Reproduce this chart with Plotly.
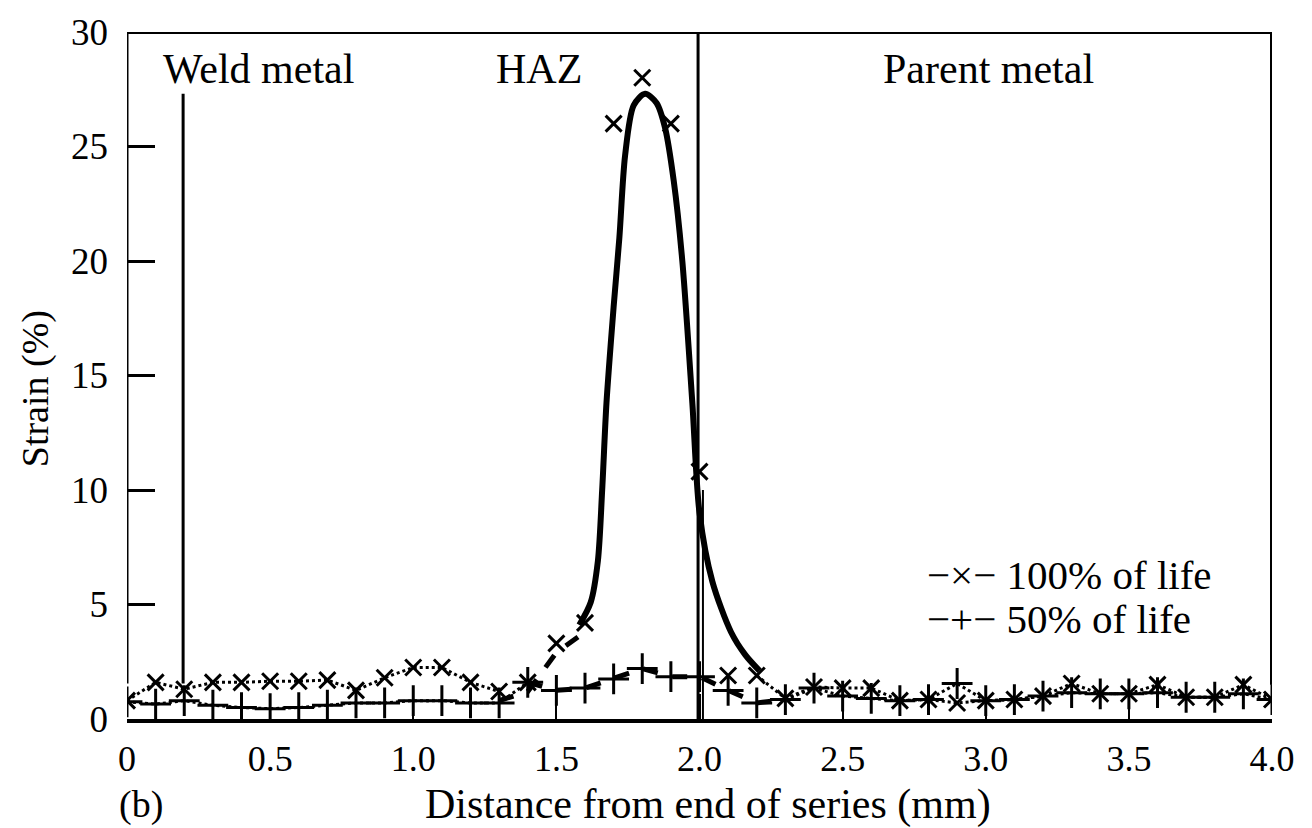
import plotly.graph_objects as go

# ---------------- data ----------------
distance_mm = [0.0, 0.1, 0.2, 0.3, 0.4, 0.5, 0.6, 0.7, 0.8, 0.9,
               1.0, 1.1, 1.2, 1.3, 1.4, 1.5, 1.6, 1.7, 1.8, 1.9,
               2.0, 2.1, 2.2, 2.3, 2.4, 2.5, 2.6, 2.7, 2.8, 2.9,
               3.0, 3.1, 3.2, 3.3, 3.4, 3.5, 3.6, 3.7, 3.8, 3.9, 4.0]

strain_100 = [0.8, 1.6, 1.3, 1.6, 1.6, 1.65, 1.65, 1.7, 1.25, 1.8,
              2.25, 2.25, 1.6, 1.2, 1.6, 3.3, 4.2, 26.0, 28.0, 26.0,
              10.8, 1.9, 1.9, 0.9, 1.4, 1.35, 1.35, 0.8, 0.85, 0.7,
              0.8, 0.85, 1.0, 1.55, 1.1, 1.1, 1.5, 0.95, 0.95, 1.5, 0.85]

strain_50 = [0.75, 0.65, 0.8, 0.6, 0.5, 0.45, 0.5, 0.6, 0.7, 0.7,
             0.8, 0.8, 0.7, 0.7, 1.6, 1.25, 1.35, 1.75, 2.2, 1.85,
             1.85, 1.25, 0.7, 0.85, 1.35, 1.0, 0.9, 0.8, 0.85, 1.55,
             0.8, 0.85, 1.0, 1.15, 1.1, 1.1, 1.15, 0.95, 0.95, 1.1, 0.85]

# smooth curve drawn through the HAZ peak (100% of life)
peak_x = [1.58, 1.62, 1.645, 1.66, 1.675, 1.70, 1.72, 1.74, 1.77, 1.81,
          1.85, 1.88, 1.91, 1.94, 1.975, 2.00, 2.045, 2.11, 2.16, 2.21]
peak_y = [4.1, 5.1, 6.9, 10.0, 13.8, 18.0, 21.0, 24.6, 26.8, 27.3,
          26.9, 25.8, 23.5, 20.0, 13.8, 9.0, 6.0, 3.8, 2.8, 2.1]

x_tickvals = [0, 0.5, 1.0, 1.5, 2.0, 2.5, 3.0, 3.5, 4.0]
x_ticktext = ["0", "0.5", "1.0", "1.5", "2.0", "2.5", "3.0", "3.5", "4.0"]
y_tickvals = [0, 5, 10, 15, 20, 25, 30]
y_ticktext = ["0", "5", "10", "15", "20", "25", "30"]

region_labels = ["Weld metal", "HAZ", "Parent metal"]
region_label_x = [0.46, 1.44, 3.01]
weld_boundary = 0.196
haz_boundary = 1.995

FONT = "Liberation Serif"
BLACK = "black"

fig = go.Figure()

def seg(lo, hi):
    return [i for i, d in enumerate(distance_mm) if lo - 1e-9 <= d <= hi + 1e-9]

def add_line(values, lo, hi, width, dash, offset=0.0):
    i = seg(lo, hi)
    fig.add_trace(go.Scatter(x=[distance_mm[k] for k in i], y=[values[k] + offset for k in i],
                             mode="lines", line=dict(color=BLACK, width=width, dash=dash),
                             showlegend=False, hoverinfo="skip"))

# 100% of life connecting lines
add_line(strain_100, 0.0, 1.3, 3, "dot")
add_line(strain_100, 1.3, 1.6, 5, "dash", offset=-0.4)
fig.add_trace(go.Scatter(x=peak_x, y=peak_y, mode="lines",
                         line=dict(color=BLACK, width=6, shape="spline", smoothing=0.8),
                         showlegend=False, hoverinfo="skip"))
add_line(strain_100, 2.2, 4.0, 3, "dot")

# 50% of life connecting lines
add_line(strain_50, 0.0, 1.4, 3, "dot")
add_line(strain_50, 1.4, 2.3, 5, "dash")
add_line(strain_50, 2.3, 4.0, 3, "dot")

# markers
fig.add_trace(go.Scatter(x=distance_mm, y=strain_100, mode="markers", name="100% of life",
                         marker=dict(symbol="x-thin-open", size=16, color=BLACK,
                                     line=dict(color=BLACK, width=3)),
                         showlegend=False))
fig.add_trace(go.Scatter(x=distance_mm, y=strain_50, mode="markers", name="50% of life",
                         marker=dict(symbol="cross-thin-open", size=22, color=BLACK,
                                     line=dict(color=BLACK, width=3)),
                         showlegend=False))

shapes = [
    dict(type="line", xref="x", yref="y", x0=0, x1=4.0, y0=30, y1=30,
         line=dict(color=BLACK, width=4)),
    dict(type="line", xref="x", yref="y", x0=0, x1=0, y0=1.55, y1=30,
         line=dict(color=BLACK, width=3)),
    dict(type="line", xref="x", yref="y", x0=4.0, x1=4.0, y0=1.5, y1=30,
         line=dict(color=BLACK, width=4)),
    dict(type="line", xref="x", yref="y", x0=weld_boundary, x1=weld_boundary, y0=1.55, y1=27.3,
         line=dict(color=BLACK, width=3)),
    dict(type="line", xref="x", yref="y", x0=haz_boundary, x1=haz_boundary, y0=0, y1=30,
         line=dict(color=BLACK, width=3)),
    dict(type="line", xref="x", yref="y", x0=haz_boundary + 0.017, x1=haz_boundary + 0.017,
         y0=0, y1=10, line=dict(color=BLACK, width=2)),
]

annotations = []
for lab, lx in zip(region_labels, region_label_x):
    annotations.append(dict(x=lx, y=28.4, xref="x", yref="y", text=lab, showarrow=False,
                            font=dict(family=FONT, size=42, color=BLACK)))

annotations += [
    dict(x=0.697, y=(719 - 573) / 695, xref="paper", yref="paper", xanchor="left", yanchor="middle",
         text="\u2212\u00d7\u2212 100% of life", showarrow=False,
         font=dict(family=FONT, size=41, color=BLACK)),
    dict(x=0.697, y=(719 - 618) / 695, xref="paper", yref="paper", xanchor="left", yanchor="middle",
         text="\u2212+\u2212 50% of life", showarrow=False,
         font=dict(family=FONT, size=41, color=BLACK)),
    dict(x=0.507, y=(719 - 806) / 695, xref="paper", yref="paper", xanchor="center", yanchor="middle",
         text="Distance from end of series (mm)", showarrow=False,
         font=dict(family=FONT, size=42, color=BLACK)),
    dict(x=0.012, y=(719 - 805) / 695, xref="paper", yref="paper", xanchor="center", yanchor="middle",
         text="(b)", showarrow=False, font=dict(family=FONT, size=38, color=BLACK)),
    dict(x=-0.080, y=(719 - 385) / 695, xref="paper", yref="paper", xanchor="center", yanchor="middle",
         text="Strain (%)", textangle=-90, showarrow=False,
         font=dict(family=FONT, size=38, color=BLACK)),
]

fig.update_layout(
    width=1312, height=828,
    margin=dict(l=127, r=40, t=24, b=109),
    paper_bgcolor="white", plot_bgcolor="white",
    shapes=shapes, annotations=annotations,
    showlegend=False,
    xaxis=dict(range=[0, 4.0], tickvals=x_tickvals, ticktext=x_ticktext,
               showgrid=False, zeroline=False, showline=True, linecolor=BLACK, linewidth=4,
               ticks="inside", ticklen=25, tickwidth=2, tickcolor=BLACK,
               ticklabelstandoff=5,
               tickfont=dict(family=FONT, size=36, color=BLACK)),
    yaxis=dict(range=[0, 30], tickvals=y_tickvals, ticktext=y_ticktext,
               showgrid=False, zeroline=False, showline=False,
               ticks="inside", ticklen=28, tickwidth=3, tickcolor=BLACK,
               ticklabelstandoff=18,
               tickfont=dict(family=FONT, size=37, color=BLACK)),
)

fig.write_html("out.html")
